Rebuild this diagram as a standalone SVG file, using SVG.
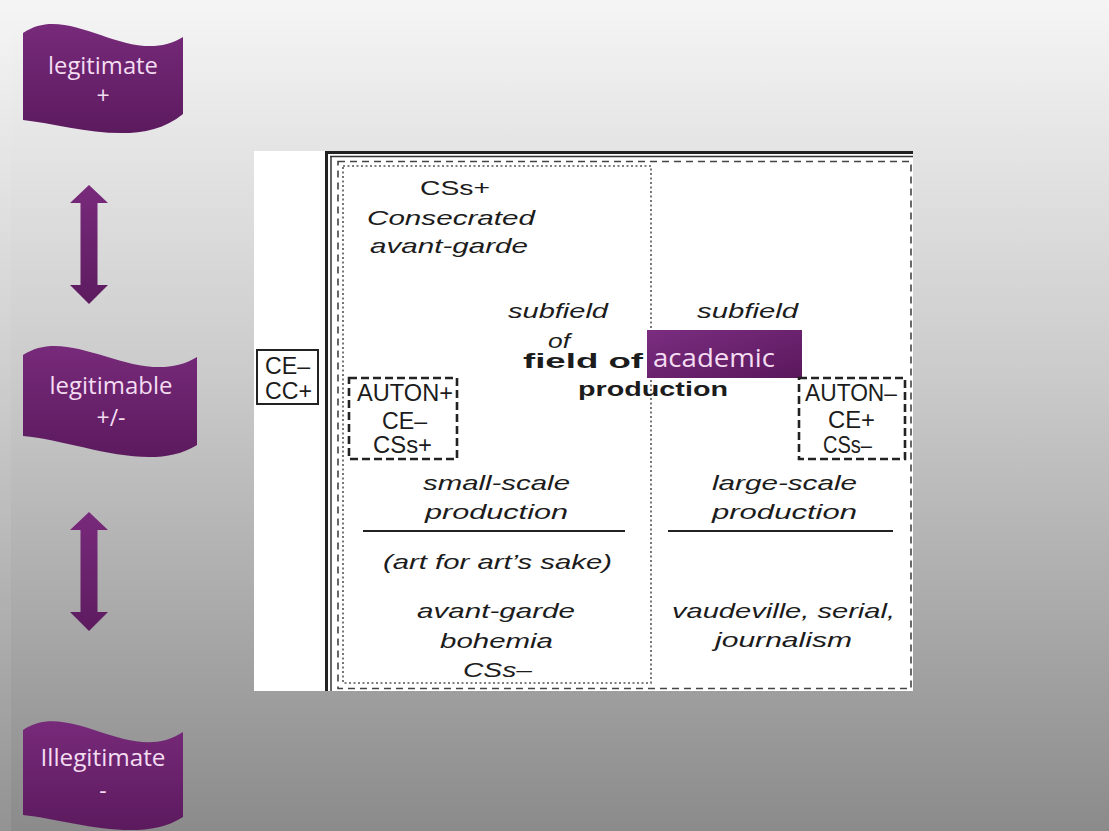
<svg xmlns="http://www.w3.org/2000/svg" width="1109" height="831" viewBox="0 0 1109 831">
  <defs>
    <linearGradient id="bg" x1="0" y1="0" x2="0" y2="1">
      <stop offset="0" stop-color="#f5f5f5"/>
      <stop offset="0.45" stop-color="#cbcbcb"/>
      <stop offset="1" stop-color="#8b8b8b"/>
    </linearGradient>
    <linearGradient id="purple" x1="0" y1="0" x2="0" y2="1">
      <stop offset="0" stop-color="#772a7a"/>
      <stop offset="1" stop-color="#5c1a5e"/>
    </linearGradient>
    <linearGradient id="purpleBox" x1="0" y1="0" x2="1" y2="1">
      <stop offset="0" stop-color="#7b2d80"/>
      <stop offset="1" stop-color="#5a185c"/>
    </linearGradient>
    <linearGradient id="arrowFill" x1="0" y1="0" x2="0" y2="1">
      <stop offset="0" stop-color="#782a7b"/>
      <stop offset="1" stop-color="#5d1b5f"/>
    </linearGradient>
  </defs>
  <style>
    .t { font-family: "Liberation Sans", Arial, sans-serif; font-size: 21px; fill: #1c1c1c; }
    .i { font-style: italic; }
    .b { font-weight: bold; font-size: 20px; }
    .k { font-size: 23px; }
    .ban { font-family: "Open Sans", "Noto Sans", sans-serif; font-size: 23px; fill: #f4dcf2; text-anchor: middle; }
    .wave { fill: url(#purple); }
    .dashbox { fill: none; stroke: #222; stroke-width: 2.6; stroke-dasharray: 8 4; }
    .rule { stroke: #222; stroke-width: 2; }
  </style>

  <!-- slide background -->
  <rect x="0" y="0" width="1109" height="831" fill="url(#bg)"/>
  <rect x="0" y="0" width="11" height="831" fill="#ffffff" opacity="0.07"/>

  <!-- legitimacy scale on the left -->
  <g id="legitimate">
    <path class="wave" d="M23,33 C70,0 130,70 183,37 L183,114 C140,150 70,125 23,120 Z"/>
    <text class="ban" x="103" y="74" textLength="110" lengthAdjust="spacingAndGlyphs">legitimate</text>
    <text class="ban" x="103" y="104">+</text>
  </g>
  <g id="legitimable">
    <path class="wave" d="M23,355 C72,322 140,392 197,357 L197,445 C150,475 75,440 23,436 Z"/>
    <text class="ban" x="111" y="394" textLength="123" lengthAdjust="spacingAndGlyphs">legitimable</text>
    <text class="ban" x="111" y="426">+/-</text>
  </g>
  <g id="illegitimate">
    <path class="wave" d="M23,730 C70,698 130,767 183,732 L183,817 C140,845 70,820 23,815 Z"/>
    <text class="ban" x="103" y="766" textLength="125" lengthAdjust="spacingAndGlyphs">Illegitimate</text>
    <text class="ban" x="103" y="799">-</text>
  </g>

  <g id="connectors" fill="url(#arrowFill)">
    <polygon points="89,185 108,203 97.5,203 97.5,285 108,285 89,304 70,285 80.5,285 80.5,203 70,203"/>
    <polygon points="89,512 108,530 97.5,530 97.5,612 108,612 89,631 70,612 80.5,612 80.5,530 70,530"/>
  </g>

  <!-- field of cultural production panel -->
  <g id="field">
    <rect x="254" y="151" width="659" height="540" fill="#ffffff"/>
    <!-- double frame rules -->
    <line x1="326.5" y1="151" x2="326.5" y2="691" stroke="#222" stroke-width="3"/>
    <line x1="331" y1="156" x2="331" y2="691" stroke="#333" stroke-width="1.5"/>
    <line x1="325" y1="152.5" x2="913" y2="152.5" stroke="#222" stroke-width="3"/>
    <line x1="330" y1="156.5" x2="913" y2="156.5" stroke="#333" stroke-width="1.3"/>
    <!-- whole field, dashed -->
    <rect x="338" y="161.5" width="573" height="527" fill="none" stroke="#444" stroke-width="1.6" stroke-dasharray="7 5"/>
    <!-- small-scale subfield, dotted -->
    <rect x="343" y="166" width="308" height="517" fill="none" stroke="#555" stroke-width="1.6" stroke-dasharray="2 2.5"/>
  </g>

  <g id="ce-cc">
    <rect x="257" y="350" width="61" height="54" fill="#ffffff" stroke="#222" stroke-width="2"/>
    <text class="t k" x="265" y="374" textLength="45" lengthAdjust="spacingAndGlyphs">CE–</text>
    <text class="t k" x="265" y="399" textLength="47" lengthAdjust="spacingAndGlyphs">CC+</text>
  </g>

  <g id="consecrated">
    <text class="t" x="420" y="195" textLength="70" lengthAdjust="spacingAndGlyphs">CSs+</text>
    <text class="t i" x="367" y="225" textLength="168" lengthAdjust="spacingAndGlyphs">Consecrated</text>
    <text class="t i" x="370" y="253" textLength="158" lengthAdjust="spacingAndGlyphs">avant-garde</text>
  </g>

  <g id="field-title">
    <text class="t i" x="508" y="318" textLength="100" lengthAdjust="spacingAndGlyphs">subfield</text>
    <text class="t i" x="548" y="348" textLength="22" lengthAdjust="spacingAndGlyphs">of</text>
    <text class="t b" x="523" y="368" textLength="120" lengthAdjust="spacingAndGlyphs">field of</text>
    <text class="t b" x="578" y="396" textLength="150" lengthAdjust="spacingAndGlyphs">production</text>
    <text class="t i" x="697" y="318" textLength="101" lengthAdjust="spacingAndGlyphs">subfield</text>
  </g>

  <g id="academic">
    <rect x="647" y="330" width="155" height="48" fill="url(#purpleBox)"/>
    <text x="653" y="367" font-family="'Open Sans', 'Noto Sans', sans-serif" font-size="26" fill="#f4dcf2" textLength="122" lengthAdjust="spacingAndGlyphs">academic</text>
  </g>

  <g id="auton-plus">
    <rect class="dashbox" x="349" y="378" width="108" height="81"/>
    <text class="t k" x="357" y="401" textLength="96" lengthAdjust="spacingAndGlyphs">AUTON+</text>
    <text class="t k" x="382" y="429" textLength="45" lengthAdjust="spacingAndGlyphs">CE–</text>
    <text class="t k" x="373" y="453" textLength="59" lengthAdjust="spacingAndGlyphs">CSs+</text>
  </g>

  <g id="auton-minus">
    <rect class="dashbox" x="799" y="378" width="106" height="81"/>
    <text class="t k" x="805" y="401" textLength="92" lengthAdjust="spacingAndGlyphs">AUTON–</text>
    <text class="t k" x="828" y="428" textLength="47" lengthAdjust="spacingAndGlyphs">CE+</text>
    <text class="t k" x="823" y="453" textLength="49" lengthAdjust="spacingAndGlyphs">CSs–</text>
  </g>

  <g id="small-scale">
    <text class="t i" x="423" y="490" textLength="147" lengthAdjust="spacingAndGlyphs">small-scale</text>
    <text class="t i" x="425" y="519" textLength="143" lengthAdjust="spacingAndGlyphs">production</text>
    <line class="rule" x1="363" y1="531" x2="625" y2="531"/>
    <text class="t i" x="383" y="569" textLength="229" lengthAdjust="spacingAndGlyphs">(art for art’s sake)</text>
    <text class="t i" x="417" y="618" textLength="158" lengthAdjust="spacingAndGlyphs">avant-garde</text>
    <text class="t i" x="440" y="648" textLength="113" lengthAdjust="spacingAndGlyphs">bohemia</text>
    <text class="t i" x="463" y="677" textLength="69" lengthAdjust="spacingAndGlyphs">CSs–</text>
  </g>

  <g id="large-scale">
    <text class="t i" x="712" y="490" textLength="145" lengthAdjust="spacingAndGlyphs">large-scale</text>
    <text class="t i" x="712" y="519" textLength="145" lengthAdjust="spacingAndGlyphs">production</text>
    <line class="rule" x1="668" y1="531" x2="893" y2="531"/>
    <text class="t i" x="672" y="618" textLength="223" lengthAdjust="spacingAndGlyphs">vaudeville, serial,</text>
    <text class="t i" x="715" y="647" textLength="137" lengthAdjust="spacingAndGlyphs">journalism</text>
  </g>
</svg>
